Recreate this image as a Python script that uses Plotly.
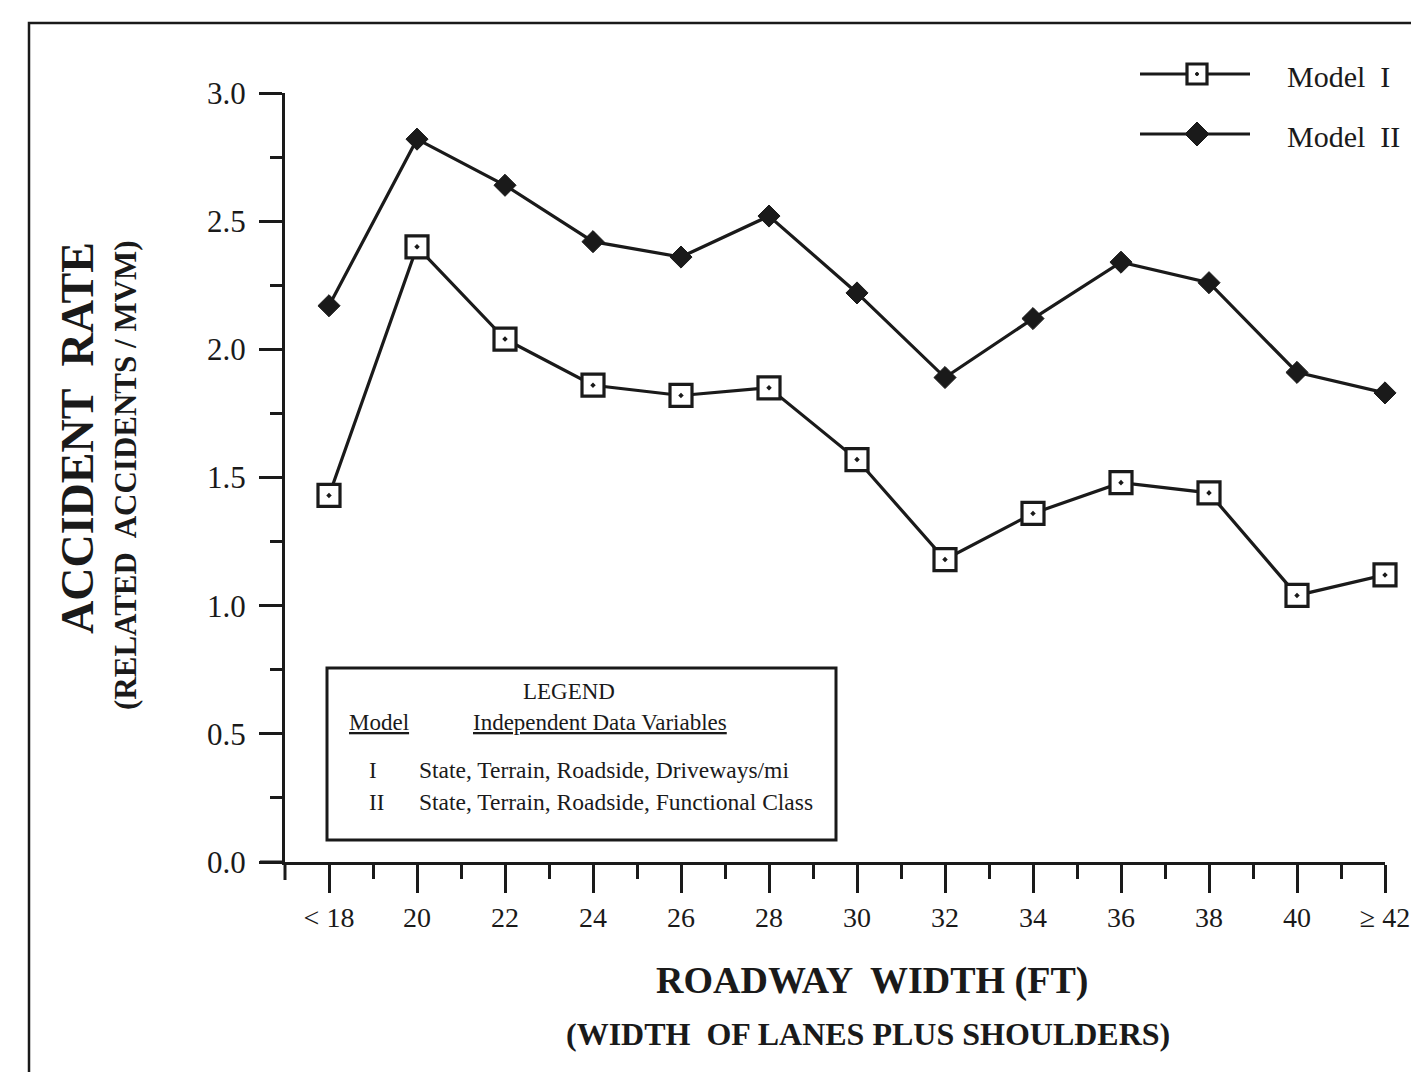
import plotly.graph_objects as go

# ---------------- data ----------------
widths = [18, 20, 22, 24, 26, 28, 30, 32, 34, 36, 38, 40, 42]
tick_labels = ["< 18", "20", "22", "24", "26", "28", "30", "32", "34", "36", "38", "40", "\u2265 42"]
model_1 = [1.43, 2.40, 2.04, 1.86, 1.82, 1.85, 1.57, 1.18, 1.36, 1.48, 1.44, 1.04, 1.12]
model_2 = [2.17, 2.82, 2.64, 2.42, 2.36, 2.52, 2.22, 1.89, 2.12, 2.34, 2.26, 1.91, 1.83]
minor_x = [19, 21, 23, 25, 27, 29, 31, 33, 35, 37, 39, 41]
y_ticks = [0, 0.5, 1.0, 1.5, 2.0, 2.5, 3.0]
y_tick_labels = ["0.0", "0.5", "1.0", "1.5", "2.0", "2.5", "3.0"]
y_minor = [0.25, 0.75, 1.25, 1.75, 2.25, 2.75]

# ---------------- layout geometry (screen pixels) ----------------
W, H = 1419, 1072
OFF = 8  # page body margin
L, R, T, B = 285, 1385, 93, 862
FONT = "Liberation Serif"
INK = "#1a1a1a"


def px(x):
    return (x - L) / (R - L)


def py(y):
    return (B - y) / (B - T)


fig = go.Figure()

line_style = dict(color=INK, width=3.2)
fig.add_trace(go.Scatter(
    x=widths, y=model_2, mode="lines+markers", name="Model II",
    line=line_style,
    marker=dict(symbol="diamond", size=17, color=INK, line=dict(color=INK, width=1)),
    cliponaxis=False, showlegend=False))
fig.add_trace(go.Scatter(
    x=widths, y=model_1, mode="lines+markers", name="Model I",
    line=line_style,
    marker=dict(symbol="square-dot", size=22, color="white", line=dict(color=INK, width=3.2)),
    cliponaxis=False, showlegend=False))

# ---------------- legend keys (top right), drawn as shapes ----------------
def key_line(y):
    return dict(type="line", xref="paper", yref="paper", x0=px(1140), x1=px(1250),
                y0=py(y), y1=py(y), line=dict(color=INK, width=3.2))


kx, ky1, ky2 = 1197, 74, 134
s = 10
d = 12
shapes = [
    key_line(ky1),
    key_line(ky2),
    dict(type="rect", xref="paper", yref="paper", x0=px(kx - s), x1=px(kx + s),
         y0=py(ky1 - s), y1=py(ky1 + s), fillcolor="white", line=dict(color=INK, width=3.2)),
    dict(type="circle", xref="paper", yref="paper", x0=px(kx - 1.5), x1=px(kx + 1.5),
         y0=py(ky1 - 1.5), y1=py(ky1 + 1.5), fillcolor=INK, line=dict(color=INK, width=1)),
    dict(type="path", xref="paper", yref="paper",
         path=f"M {px(kx - d)},{py(ky2)} L {px(kx)},{py(ky2 - d)} L {px(kx + d)},{py(ky2)} "
              f"L {px(kx)},{py(ky2 + d)} Z",
         fillcolor=INK, line=dict(color=INK, width=1)),
    # outer frame
    dict(type="rect", xref="paper", yref="paper", x0=px(29), y0=py(23), x1=px(1450), y1=py(1100),
         line=dict(color=INK, width=2.5)),
    # inner legend box
    dict(type="rect", xref="paper", yref="paper", x0=px(327), y0=py(668), x1=px(836), y1=py(840),
         line=dict(color=INK, width=3)),
    # axis extensions
    dict(type="line", xref="paper", yref="paper", x0=px(260), y0=0, x1=0, y1=0,
         line=dict(color=INK, width=3)),
    dict(type="line", xref="paper", yref="paper", x0=0, y0=0, x1=0, y1=py(880),
         line=dict(color=INK, width=3)),
]

annotations = [
    dict(text="Model  I", x=px(1285), y=py(76), xanchor="left", yanchor="middle",
         font=dict(family=FONT, size=30, color=INK)),
    dict(text="Model  II", x=px(1285), y=py(136), xanchor="left", yanchor="middle",
         font=dict(family=FONT, size=30, color=INK)),
    # axis titles
    dict(text="<b>ROADWAY  WIDTH (FT)</b>", x=px(872), y=py(980), xanchor="center", yanchor="middle",
         font=dict(family=FONT, size=38, color=INK)),
    dict(text="<b>(WIDTH  OF LANES PLUS SHOULDERS)</b>", x=px(868), y=py(1034), xanchor="center",
         yanchor="middle", font=dict(family=FONT, size=32, color=INK)),
    dict(text="<b>ACCIDENT  RATE</b>", x=px(77), y=py(438), xanchor="center", yanchor="middle",
         textangle=-90, font=dict(family=FONT, size=46, color=INK)),
    dict(text="<b>(RELATED  ACCIDENTS / MVM)</b>", x=px(125), y=py(475), xanchor="center",
         yanchor="middle", textangle=-90, font=dict(family=FONT, size=31, color=INK)),
    # inner legend box text
    dict(text="LEGEND", x=px(569), y=py(691), xanchor="center", yanchor="middle",
         font=dict(family=FONT, size=23, color=INK)),
    dict(text="<u>Model</u>", x=px(347), y=py(722), xanchor="left", yanchor="middle",
         font=dict(family=FONT, size=23, color=INK)),
    dict(text="<u>Independent Data Variables</u>", x=px(471), y=py(722), xanchor="left",
         yanchor="middle", font=dict(family=FONT, size=23, color=INK)),
    dict(text="I", x=px(373), y=py(770), xanchor="center", yanchor="middle",
         font=dict(family=FONT, size=23, color=INK)),
    dict(text="State, Terrain, Roadside, Driveways/mi", x=px(417), y=py(770), xanchor="left",
         yanchor="middle", font=dict(family=FONT, size=23.5, color=INK)),
    dict(text="II", x=px(376), y=py(802), xanchor="center", yanchor="middle",
         font=dict(family=FONT, size=23, color=INK)),
    dict(text="State, Terrain, Roadside, Functional Class", x=px(417), y=py(802), xanchor="left",
         yanchor="middle", font=dict(family=FONT, size=23.5, color=INK)),
]
for a in annotations:
    a.update(xref="paper", yref="paper", showarrow=False)

fig.update_layout(
    width=W, height=H,
    margin=dict(l=L - OFF, r=W - (R - OFF), t=T - OFF, b=H - (B - OFF)),
    paper_bgcolor="white", plot_bgcolor="white",
    showlegend=False,
    font=dict(family=FONT, color=INK),
    annotations=annotations,
    shapes=shapes,
    xaxis=dict(
        range=[17, 42], tickmode="array", tickvals=widths, ticktext=tick_labels,
        showgrid=False, zeroline=False, showline=True, linecolor=INK, linewidth=3,
        ticks="outside", ticklen=28, tickwidth=3, tickcolor=INK,
        tickfont=dict(family=FONT, size=28, color=INK), ticklabelstandoff=0,
        minor=dict(tickvals=minor_x, ticks="outside", ticklen=14, tickwidth=3, tickcolor=INK,
                   showgrid=False),
    ),
    yaxis=dict(
        range=[0, 3], tickmode="array", tickvals=y_ticks, ticktext=y_tick_labels,
        showgrid=False, zeroline=False, showline=True, linecolor=INK, linewidth=3,
        ticks="outside", ticklen=23, tickwidth=3, tickcolor=INK,
        tickfont=dict(family=FONT, size=31, color=INK), ticklabelstandoff=7,
        minor=dict(tickvals=y_minor, ticks="outside", ticklen=12,
                   tickwidth=3, tickcolor=INK, showgrid=False),
    ),
)

fig.write_html("out.html")
